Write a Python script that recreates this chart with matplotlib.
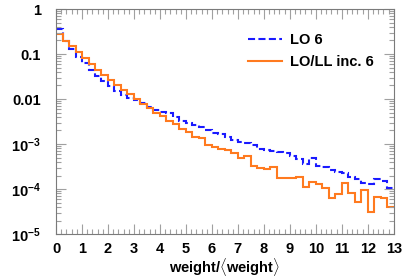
import numpy as np
import matplotlib
matplotlib.use("Agg")
import matplotlib.pyplot as plt
from matplotlib.ticker import LogLocator, MultipleLocator, NullFormatter, FuncFormatter

plt.rcParams['font.family'] = ['Liberation Sans', 'DejaVu Sans']
plt.rcParams['font.weight'] = 'bold'
plt.rcParams['mathtext.fontset'] = 'custom'
plt.rcParams['mathtext.rm'] = 'Liberation Sans:bold'
plt.rcParams['mathtext.default'] = 'rm'

# histogram bins: 0..13 in steps of 0.25
bin_edges = np.linspace(0, 13, 53)

# LO 6 (blue dashed)
lo6 = [0.36, 0.194, 0.127, 0.087, 0.0621, 0.0441, 0.0325, 0.0251, 0.0195, 0.0151,
       0.0126, 0.0108, 0.0095, 0.00815, 0.00675, 0.0057, 0.00527, 0.00489, 0.00404, 0.0033,
       0.00288, 0.00264, 0.00242, 0.00205, 0.00178, 0.00163, 0.00145, 0.00123, 0.00111, 0.00104,
       9.5e-4, 7.7e-4, 7.4e-4, 7.1e-4, 6.8e-4, 6.3e-4, 5.4e-4, 4.6e-4, 3.6e-4, 4.8e-4,
       3.2e-4, 3.1e-4, 2.6e-4, 2.35e-4, 2.3e-4, 1.88e-4, 1.64e-4, 1.34e-4, 1.29e-4, 1.69e-4,
       1.53e-4, 1.07e-4]

# LO/LL inc. 6 (orange solid)
lo_ll6 = [0.274, 0.198, 0.151, 0.109, 0.0828, 0.0591, 0.0441, 0.0341, 0.0264, 0.0205,
          0.0158, 0.0127, 0.0100, 0.00774, 0.00621, 0.00496, 0.00419, 0.0033, 0.00278, 0.00212,
          0.00188, 0.00145, 0.00134, 9.5e-4, 8.6e-4, 7.6e-4, 7.4e-4, 6.4e-4, 4.8e-4, 5.4e-4,
          3.2e-4, 3.0e-4, 2.8e-4, 3.1e-4, 1.73e-4, 1.72e-4, 1.73e-4, 1.82e-4, 1.12e-4, 1.41e-4,
          1.27e-4, 1.07e-4, 6.2e-5, 7.6e-5, 1.38e-4, 8.0e-5, 5.1e-5, 9.5e-5, 3.1e-5, 6.7e-5,
          6.2e-5, 3.9e-5]

fig = plt.figure(figsize=(4.15, 2.77), dpi=100)
ax = fig.add_axes([0.135, 0.155, 0.814, 0.8125])

ax.stairs(lo6, bin_edges, baseline=None, color='#1a1aff', lw=1.5,
          linestyle=(0, (3.4, 1.6)), label='LO 6')
ax.stairs(lo_ll6, bin_edges, baseline=None, color='#ff7a1f', lw=1.5,
          label='LO/LL inc. 6')

ax.set_yscale('log')
ax.set_xlim(0, 13)
ax.set_ylim(1e-5, 1)

def ylab(v, pos):
    e = int(round(np.log10(v)))
    if e == 0:
        return '1'
    if e == -1:
        return '0.1'
    if e == -2:
        return '0.01'
    return r'$10^{%d}$' % e

ax.xaxis.set_major_locator(MultipleLocator(1))
ax.xaxis.set_minor_locator(MultipleLocator(0.2))
ax.yaxis.set_major_locator(LogLocator(base=10, numticks=10))
ax.yaxis.set_minor_locator(LogLocator(base=10, subs=np.arange(2, 10), numticks=20))
ax.yaxis.set_major_formatter(FuncFormatter(ylab))
ax.yaxis.set_minor_formatter(NullFormatter())

for s in ax.spines.values():
    s.set_color('#7a7a7a')
    s.set_linewidth(0.8)
ax.tick_params(which='both', direction='in', top=True, right=True, color='#a0a0a0', width=0.8)
ax.tick_params(which='major', length=7, labelsize=10.5, pad=6)
ax.tick_params(which='minor', length=3.5)
ax.tick_params(axis='y', which='major', pad=11)
for t in ax.get_xticklabels() + ax.get_yticklabels():
    t.set_fontweight('bold')

ax.set_xlabel(r'weight/$\langle$weight$\rangle$', fontsize=10.5, fontweight='bold')
ax.xaxis.label.set_va('center')
ax.xaxis.set_label_coords(0.5, -0.146)

ax.legend(loc='upper left', bbox_to_anchor=(0.53, 0.95), frameon=False,
          handlelength=2.3, handletextpad=0.6, labelspacing=0.55,
          prop={'weight': 'bold', 'size': 10.5})

fig.savefig('out.png', dpi=100)
